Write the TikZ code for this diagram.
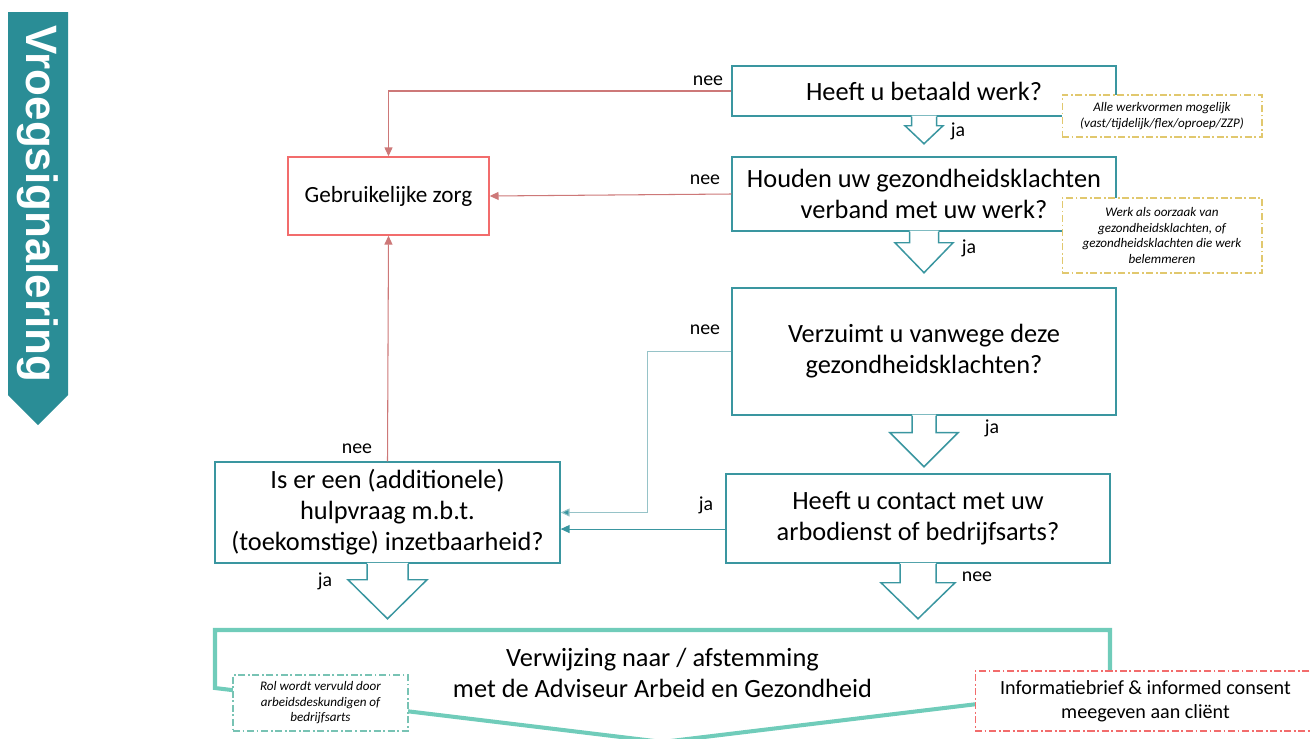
\documentclass[tikz,border=0pt]{standalone}
\usepackage{fontspec}
\setmainfont{Carlito}
\newfontfamily\bannerfont{Liberation Sans}
\usetikzlibrary{arrows.meta, calc, positioning}
\definecolor{vtteal}{RGB}{58,150,160}
\definecolor{banner}{RGB}{42,141,150}
\definecolor{lichtteal}{RGB}{150,195,200}
\definecolor{zorgrood}{RGB}{242,108,108}
\definecolor{lijnrood}{RGB}{205,120,120}
\definecolor{mint}{RGB}{112,204,186}
\definecolor{nootgeel}{RGB}{225,200,110}
\definecolor{nootteal}{RGB}{120,195,180}
\tikzset{
  vraag/.style = {draw=vtteal, fill=white, line width=0.85pt, minimum width=7.68cm,
    align=center, inner sep=0pt, font=\fontsize{15pt}{17.6pt}\selectfont},
  zorg/.style = {draw=zorgrood, fill=white, line width=0.85pt, minimum width=4.02cm,
    minimum height=1.56cm, inner sep=0pt, font=\fontsize{13.2pt}{15.8pt}\selectfont},
  noot/.style = {fill=white, line width=0.6pt, align=center, inner sep=0pt,
    dash pattern=on 4pt off 1.5pt on 1pt off 1.5pt},
  klein/.style = {font=\fontsize{7.45pt}{8.8pt}\selectfont\itshape},
  lbl/.style = {font=\fontsize{11.3pt}{13.6pt}\selectfont, inner sep=0pt},
  blok/.style = {draw=vtteal, line width=0.85pt, line join=miter},
  rood/.style = {draw=lijnrood, line width=0.6pt, -{Triangle[length=5pt,width=4.5pt]}},
  tpijl/.style = {draw=vtteal, line width=0.6pt, -{Triangle[length=5pt,width=4.5pt]}},
  lpijl/.style = {draw=lichtteal, line width=0.6pt, -{Triangle[length=5pt,width=4.5pt,fill=vtteal]}}
}

\begin{document}
\begin{tikzpicture}[x=0.02cm, y=-0.02cm]
  \useasboundingbox (0,0) rectangle (1311,738);
  % banner links
  \fill[banner] (8,12) -- (68,12) -- (68,395) -- (38,425) -- (8,395) -- cycle;
  \node[rotate=-90, text=white, font=\bannerfont\bfseries\fontsize{25pt}{30pt}\selectfont]
    (titel) at (38,204) {Vroegsignalering};

  % vragen
  \node[vraag, minimum height=1.0cm] (betaald) at (924,91) {Heeft u betaald werk?};
  \node[vraag, minimum height=1.48cm] (klachten) at (924,194)
    {Houden uw gezondheidsklachten\\verband met uw werk?};
  \node[vraag, minimum height=2.54cm] (verzuim) at (924,351.5)
    {Verzuimt u vanwege deze\\gezondheidsklachten?};
  \node[vraag, minimum height=1.78cm] (arbo) at (918,518.5)
    {Heeft u contact met uw\\arbodienst of bedrijfsarts?};
  \node[vraag, minimum width=6.9cm, minimum height=2.02cm] (hulp) at (387.5,512.5)
    {Is er een (additionele)\\hulpvraag m.b.t.\\(toekomstige) inzetbaarheid?};
  \node[zorg] (zorg) at (388.5,196) {Gebruikelijke zorg};

  % blokpijlen omlaag
  \foreach \n/\s/\h/\w/\t in {betaald/12.5/9/19/27, klachten/14.5/11/29/41,
      verzuim/12/17/34/51, arbo/18/19/37/55, hulp/20.5/16/39.5/55}{
    \fill[white, shift={(\n.south)}] (-\s,-1) -- (-\s,\h) -- (-\w,\h) -- (0,\t)
      -- (\w,\h) -- (\s,\h) -- (\s,-1) -- cycle;
    \draw[blok, shift={(\n.south)}] (-\s,0) -- (-\s,\h) -- (-\w,\h) -- (0,\t)
      -- (\w,\h) -- (\s,\h) -- (\s,0);
  }

  % verbindingen
  \draw[rood] (betaald.west) -| (zorg.north);
  \draw[rood] (klachten.west) -- (zorg.east);
  \draw[rood] (hulp.north) -- (zorg.south);
  \draw[lpijl] (verzuim.west) -- ++(-84,0) |- (hulp.east);
  \coordinate (arboL) at ([yshift=-6pt]arbo.west);
  \draw[tpijl] (arboL) -- (arboL -| hulp.east);

  % labels
  \node[lbl] (nee1) at (708,81) {nee};
  \node[lbl] (nee2) at (705,180) {nee};
  \node[lbl] (nee3) at (705,330) {nee};
  \node[lbl] (nee4) at (357,449) {nee};
  \node[lbl] (nee5) at (977,577) {nee};
  \node[lbl] (ja1) at (958,131) {ja};
  \node[lbl] (ja2) at (969,248) {ja};
  \node[lbl] (ja3) at (992,428) {ja};
  \node[lbl] (ja4) at (706,505) {ja};
  \node[lbl] (ja5) at (325,581) {ja};

  % verwijzing onderaan
  \draw[mint, line width=2.3pt, line join=miter]
    (215,688) -- (215,630) -- (1110,630) -- (1110,688) -- (662.5,742) -- cycle;
  \node[align=center, font=\fontsize{15pt}{17.6pt}\selectfont] (verwijzing) at (662.5,672.5)
    {Verwijzing naar / afstemming\\met de Adviseur Arbeid en Gezondheid};

  % noten
  \node[noot, klein, draw=nootgeel, minimum width=4.0cm, minimum height=0.84cm]
    (noot1) at (1162,116) {Alle werkvormen mogelijk\\(vast/tijdelijk/flex/oproep/ZZP)};
  \node[noot, klein, draw=nootgeel, minimum width=4.0cm, minimum height=1.5cm]
    (noot2) at (1162,235.5) {Werk als oorzaak van\\gezondheidsklachten, of\\gezondheidsklachten die werk\\belemmeren};
  \node[noot, klein, draw=nootteal, minimum width=3.5cm, minimum height=1.12cm]
    (noot3) at (320.5,703) {Rol wordt vervuld door\\arbeidsdeskundigen of\\bedrijfsarts};
  \node[noot, draw=zorgrood, minimum width=6.82cm, minimum height=1.2cm,
    font=\fontsize{11.45pt}{13.6pt}\selectfont]
    (noot4) at (1145.5,701) {Informatiebrief \& informed consent\\meegeven aan cliënt};
\end{tikzpicture}
\end{document}
